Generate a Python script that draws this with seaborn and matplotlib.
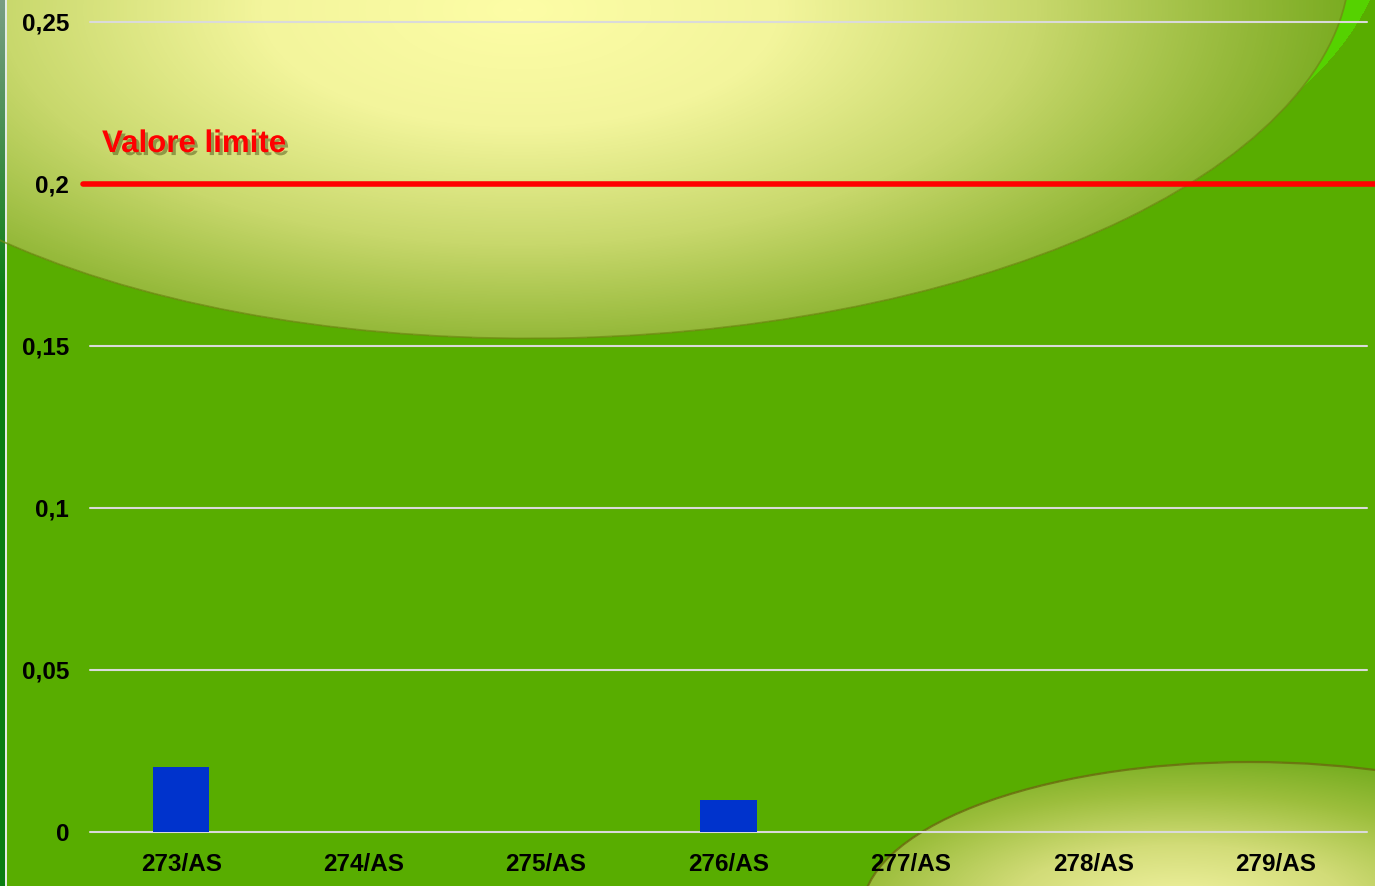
import numpy as np
import matplotlib
matplotlib.use("Agg")
import matplotlib.pyplot as plt
from matplotlib.colors import LinearSegmentedColormap, to_rgb
from matplotlib.patches import Ellipse
import matplotlib.patheffects as pe
import seaborn as sns
import pandas as pd

# ---- data ----
categories = ["273/AS", "274/AS", "275/AS", "276/AS", "277/AS", "278/AS", "279/AS"]
values = [0.02, 0.0, 0.0, 0.01, 0.0, 0.0, 0.0]
limit_value = 0.2
limit_label = "Valore limite"
y_ticks = [0, 0.05, 0.1, 0.15, 0.2, 0.25]
y_tick_labels = ["0", "0,05", "0,1", "0,15", "0,2", "0,25"]

sns.set_theme(style="white")
plt.rcParams["font.family"] = ["Liberation Sans", "DejaVu Sans"]

W, H = 1375, 886
fig = plt.figure(figsize=(W / 100, H / 100), dpi=100)

# ---- decorative slide background ----
bg = fig.add_axes([0, 0, 1, 1], zorder=-10)
bg.set_xlim(0, W)
bg.set_ylim(H, 0)
bg.axis("off")

Y, X = np.mgrid[0:H, 0:W] + 0.5
img = np.empty((H, W, 3))
img[:] = to_rgb("#58ad00")


def ell_mask(cx, cy, a, b, theta_deg):
    t = np.deg2rad(theta_deg)
    u = (X - cx) * np.cos(t) + (Y - cy) * np.sin(t)
    v = -(X - cx) * np.sin(t) + (Y - cy) * np.cos(t)
    return (u / a) ** 2 + (v / b) ** 2 <= 1


E1 = dict(cx=565, cy=-20, a=785, b=358, th=-1.5)

# lime crescent behind big ellipse
lime = ell_mask(E1["cx"] + 38, E1["cy"] - 40, E1["a"], E1["b"], E1["th"])
img[lime] = to_rgb("#55d200")

# big top ellipse
m1 = ell_mask(E1["cx"], E1["cy"], E1["a"], E1["b"], E1["th"])
r1 = np.sqrt(((X - 520) / 860) ** 2 + ((Y - 10) / 390) ** 2)
cmap1 = LinearSegmentedColormap.from_list(
    "c1", [(0, "#fdfda6"), (0.3, "#f3f59c"), (0.6, "#c8d86c"), (0.85, "#93b838"), (1, "#72a81a")])
g1 = cmap1(np.clip(r1, 0, 1))[..., :3]
img[m1] = g1[m1]

# bottom-right ellipse
E2 = dict(cx=1250, cy=912, a=388, b=150, th=0)
m2 = ell_mask(E2["cx"], E2["cy"], E2["a"], E2["b"], E2["th"])
r2 = np.sqrt(((X - 1180) / 420) ** 2 + ((Y - 905) / 150) ** 2)
cmap2 = LinearSegmentedColormap.from_list(
    "c2", [(0, "#f2f3a2"), (0.4, "#d2dc78"), (0.75, "#9cbe3c"), (1, "#78ae22")])
g2 = cmap2(np.clip(r2, 0, 1))[..., :3]
img[m2] = g2[m2]

# left slide edge
edge = np.clip(Y / 300, 0, 1)
top_c, bot_c = np.array(to_rgb("#7a9e84")), np.array(to_rgb("#0b7d12"))
strip = top_c[None, :] * (1 - edge[:, :1]) + bot_c[None, :] * edge[:, :1]
img[:, :5] = strip[:, None, :]
img[:, 5:7] = to_rgb("#e4ece4")

bg.imshow(img, extent=(0, W, H, 0), aspect="auto", interpolation="bilinear")
bg.add_patch(Ellipse((E1["cx"], E1["cy"]), 2 * E1["a"], 2 * E1["b"], angle=E1["th"],
                     fill=False, ec="#6f8a14", lw=1.3, alpha=0.75))
bg.add_patch(Ellipse((E2["cx"], E2["cy"]), 2 * E2["a"], 2 * E2["b"], angle=E2["th"],
                     fill=False, ec="#6b6a10", lw=1.6, alpha=0.8))

# ---- chart ----
ax = fig.add_axes([90 / W, 54 / H, 1277 / W, 810 / H])
ax.set_facecolor("none")
df = pd.DataFrame({"cat": categories, "val": values})
sns.barplot(data=df, x="cat", y="val", color="#0033cc", width=0.31,
            saturation=1, linewidth=0, ax=ax, zorder=3)
ax.set_xlim(-0.5, len(categories) - 0.5)
ax.set_ylim(0, 0.25)
ax.set_yticks(y_ticks)
ax.set_yticklabels(y_tick_labels)
ax.set_xlabel("")
ax.set_ylabel("")
for s in ax.spines.values():
    s.set_visible(False)
ax.grid(False)
for yv in y_ticks:
    ax.axhline(yv, color="#dadada", lw=1.5, zorder=1, clip_on=False)
ax.tick_params(axis="both", length=0, labelsize=17.5, labelcolor="black")
ax.tick_params(axis="y", pad=15)
ax.tick_params(axis="x", pad=15)
for lab in ax.get_xticklabels() + ax.get_yticklabels():
    lab.set_fontweight("bold")

ax.axhline(limit_value, xmin=-7 / 1277, xmax=(W - 90) / 1277, color="#ff0000",
           lw=4, zorder=4, clip_on=False)

fig.text(102 / W, (H - 152) / H, limit_label, color="#ff0000", fontsize=22.5,
         fontweight="bold", ha="left", va="baseline",
         path_effects=[pe.withSimplePatchShadow(offset=(2.2, -2.2), shadow_rgbFace="#303000", alpha=0.4)])

fig.savefig("out.png", dpi=100)
